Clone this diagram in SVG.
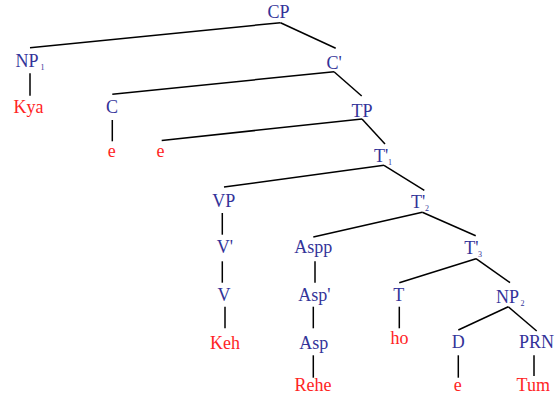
<svg xmlns="http://www.w3.org/2000/svg" width="555" height="399" viewBox="0 0 555 399">
<style>
text{font-family:'Liberation Serif','Times New Roman',serif;font-size:18px}
.n{fill:#333399}
.w{fill:#ff2424}
.m{text-anchor:middle}
.s{font-size:8px}
#edges line{stroke:#000;stroke-width:1.5;stroke-linecap:butt}
</style>
<rect width="555" height="399" fill="#fff"/>
<g id="edges">
<line x1="280.5" y1="22.7" x2="30" y2="47.7"/>
<line x1="280.5" y1="22.7" x2="335.7" y2="48.3"/>
<line x1="30" y1="73.3" x2="30" y2="95.7"/>
<line x1="334" y1="71.7" x2="112.3" y2="94.3"/>
<line x1="334" y1="71.7" x2="361.7" y2="96"/>
<line x1="112.3" y1="120" x2="112.3" y2="141.3"/>
<line x1="362" y1="119" x2="161.7" y2="140.5"/>
<line x1="362" y1="119" x2="385" y2="144"/>
<line x1="384" y1="165.3" x2="224" y2="187"/>
<line x1="384" y1="165.3" x2="424.3" y2="190.3"/>
<line x1="222.3" y1="213" x2="222.3" y2="234.7"/>
<line x1="422.3" y1="212.3" x2="313.3" y2="237"/>
<line x1="422.3" y1="212.3" x2="475.7" y2="235.7"/>
<line x1="222.3" y1="261.3" x2="222.3" y2="282.7"/>
<line x1="315" y1="261.3" x2="315" y2="282.7"/>
<line x1="476" y1="258.7" x2="399.3" y2="282.7"/>
<line x1="476" y1="258.7" x2="510" y2="282.7"/>
<line x1="225" y1="306.7" x2="225" y2="328.3"/>
<line x1="313.3" y1="306.7" x2="313.3" y2="328.3"/>
<line x1="399.3" y1="306.7" x2="399.3" y2="328.3"/>
<line x1="508.3" y1="306.7" x2="458.3" y2="330"/>
<line x1="508.3" y1="306.7" x2="536.7" y2="331"/>
<line x1="313.3" y1="355.3" x2="313.3" y2="377.7"/>
<line x1="458.3" y1="355.3" x2="458.3" y2="377.7"/>
<line x1="534" y1="355.3" x2="534" y2="376"/>
</g>
<g id="CP"><text class="n m" x="278.5" y="18">CP</text></g>
<g id="NP1"><text class="n" x="15.5" y="67">NP</text><text class="n s" x="40.5" y="70">1</text></g>
<g id="Cbar"><text class="n" x="326.5" y="69">C'</text></g>
<g id="Kya"><text class="w m" x="28.5" y="113">Kya</text></g>
<g id="C"><text class="n m" x="112" y="113">C</text></g>
<g id="TP"><text class="n m" x="362" y="117">TP</text></g>
<g id="e1"><text class="w m" x="111.7" y="156.5">e</text></g>
<g id="e2"><text class="w m" x="160.5" y="156.5">e</text></g>
<g id="Tbar1"><text class="n" x="374" y="162">T'</text><text class="n s" x="388" y="165">1</text></g>
<g id="VP"><text class="n m" x="223.7" y="207">VP</text></g>
<g id="Tbar2"><text class="n" x="411" y="208">T'</text><text class="n s" x="425" y="211">2</text></g>
<g id="Vbar"><text class="n" x="216.7" y="253">V'</text></g>
<g id="Aspp"><text class="n m" x="313.3" y="253">Aspp</text></g>
<g id="Tbar3"><text class="n" x="464.3" y="254">T'</text><text class="n s" x="478" y="257">3</text></g>
<g id="V"><text class="n m" x="224" y="301">V</text></g>
<g id="Aspbar"><text class="n" x="298.3" y="301">Asp'</text></g>
<g id="T"><text class="n m" x="398.7" y="301">T</text></g>
<g id="NP2"><text class="n" x="496" y="302.7">NP</text><text class="n s" x="520.5" y="305.5">2</text></g>
<g id="Keh"><text class="w m" x="225" y="348.7">Keh</text></g>
<g id="Asp"><text class="n m" x="313.7" y="348.7">Asp</text></g>
<g id="ho"><text class="w m" x="399.5" y="344.3">ho</text></g>
<g id="D"><text class="n m" x="458.3" y="348">D</text></g>
<g id="PRN"><text class="n m" x="536.5" y="348">PRN</text></g>
<g id="Rehe"><text class="w m" x="313" y="391">Rehe</text></g>
<g id="e3"><text class="w m" x="457.7" y="391">e</text></g>
<g id="Tum"><text class="w m" x="533.3" y="391">Tum</text></g>
</svg>
